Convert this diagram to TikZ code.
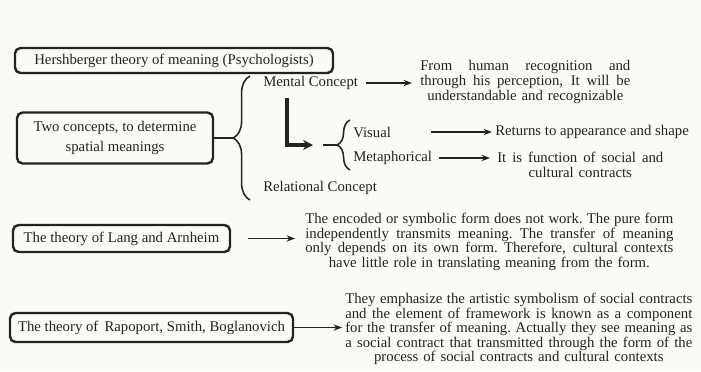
\documentclass[tikz,border=0pt]{standalone}
\usepackage{fontspec}
\setmainfont{Liberation Serif}
\usetikzlibrary{arrows.meta,positioning,decorations.pathreplacing}
\definecolor{ink}{RGB}{35,35,35}
\definecolor{paper}{RGB}{251,250,247}
\newcommand{\spreadline}[2]{\makebox[#1][s]{\spaceskip=0.25em plus 1fil\xspaceskip=\spaceskip #2}}

\begin{document}
\begin{tikzpicture}[x=0.025cm,y=-0.025cm,
    font=\fontsize{10.5}{10.4}\selectfont,text=ink,
    theory/.style={draw=ink,line width=1.7pt,rounded corners=4pt,inner sep=0pt,align=center},
    term/.style={inner sep=0pt,anchor=west},
    gloss/.style={inner sep=0pt,anchor=west,align=center},
    arr/.style={draw=ink,line width=0.9pt,-{Stealth[length=6pt,width=4.5pt]}},
    bigarr/.style={draw=ink,line width=2.2pt,-{Stealth[length=7pt,width=7pt]}},
    bracket/.style={draw=ink,line width=1.1pt,decorate,decoration={brace,amplitude=#1}}]
  \fill[paper] (0,0) rectangle (701,371);
  \useasboundingbox (0,0) rectangle (701,371);

  % theories on the left
  \node[theory,minimum width=7.95cm,minimum height=0.625cm] (hershberger) at (174,60.5) {Hershberger theory of meaning (Psychologists)};
  \node[theory,minimum width=4.9cm,minimum height=1.275cm] (concepts) at (115,138) {Two concepts, to determine\\[3.7pt]spatial meanings};
  \node[theory,minimum width=5.425cm,minimum height=0.675cm] (lang) at (121.5,238.5) {The theory of Lang and Arnheim};
  \node[theory,minimum width=7.075cm,minimum height=0.725cm] (rapoport) at (151.5,327.5) {The theory of\, Rapoport, Smith, Boglanovich};

  % two concepts
  \coordinate (bigtop) at (250,76);
  \coordinate (bigbot) at (250,200);
  \coordinate (bigtip) at (233,138);
  \draw[bracket=0.42cm] (bigbot) -- (bigtop);
  \draw[ink,line width=1.1pt] (concepts.east) -- (bigtip);
  \node[term] (mental) at (263,83) {Mental Concept};
  \node[term] (relational) at (263,188) {Relational Concept};
  \node[gloss,text width=5.25cm] (human) at (420,82)
    {\spreadline{5.25cm}{From human recognition and}\\
     \spreadline{5.25cm}{through his perception, It will be}\\
     understandable and recognizable};
  \draw[arr,shorten <=0.2cm,shorten >=0.2cm] (mental.east) -- (mental.east -| human.west);

  % visual and metaphorical
  \coordinate (smalltop) at (350,120);
  \coordinate (smallbot) at (350,170);
  \coordinate (smallstub) at (323,145);
  \coordinate (smalltip) at (337,145);
  \draw[bracket=0.32cm] (smallbot) -- (smalltop);
  \draw[ink,line width=1.1pt] (smallstub) -- (smalltip);
  \draw[bigarr,shorten >=0.25cm] ([xshift=0.6cm,yshift=-0.2cm]mental.south west) |- (smallstub);
  \node[term] (visual) at (353,132) {Visual};
  \node[term] (metaphorical) at (353,158) {Metaphorical};
  \node[term] (shape) at (495,132) {Returns to appearance and shape};
  \node[gloss,text width=4.15cm] (social) at (497,165)
    {\spreadline{4.15cm}{It is function of social and}\\
     cultural contracts};
  \draw[arr,shorten >=0.075cm] ([xshift=1cm]visual.east) -- (shape.west);
  \draw[arr,shorten <=0.175cm,shorten >=0.175cm] (metaphorical.east) -- (metaphorical.east -| social.west);

  % Lang and Arnheim
  \node[gloss,text width=9.2cm] (form) at (305,242)
    {\spreadline{9.2cm}{The encoded or symbolic form does not work. The pure form}\\
     \spreadline{9.2cm}{independently transmits meaning. The transfer of meaning}\\
     \spreadline{9.2cm}{only depends on its own form. Therefore, cultural contexts}\\
     have little role in translating meaning from the form.};
  \draw[arr,shorten <=0.425cm,shorten >=0.25cm] (lang.east) -- (lang.east -| form.west);

  % Rapoport, Smith, Boglanovich
  \node[gloss,text width=8.675cm] (contract) at (345,329)
    {\spreadline{8.675cm}{They emphasize the artistic symbolism of social contracts}\\
     \spreadline{8.675cm}{and the element of framework is known as a component}\\
     \spreadline{8.675cm}{for the transfer of meaning. Actually they see meaning as}\\
     \spreadline{8.675cm}{a social contract that transmitted through the form of the}\\
     process of social contracts and cultural contexts};
  \draw[arr,shorten >=0.075cm] (rapoport.east) -- (rapoport.east -| contract.west);
\end{tikzpicture}
\end{document}
